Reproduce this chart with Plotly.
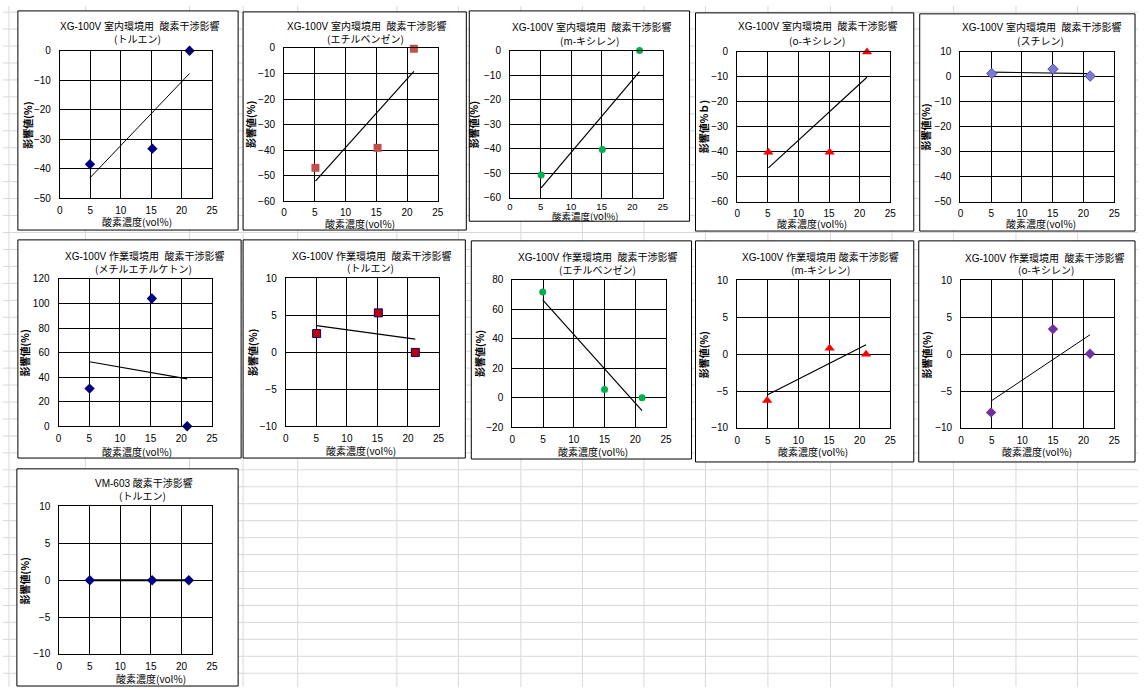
import numpy as np
import plotly.graph_objects as go

W, H = 1144, 693

# ---------------- data ----------------
title_line1 = [
    "XG-100V 室内環境用\u00a0 酸素干渉影響",
    "XG-100V 室内環境用\u00a0 酸素干渉影響",
    "XG-100V 室内環境用\u00a0 酸素干渉影響",
    "XG-100V 室内環境用\u00a0 酸素干渉影響",
    "XG-100V 室内環境用\u00a0 酸素干渉影響",
    "XG-100V 作業環境用\u00a0 酸素干渉影響",
    "XG-100V 作業環境用\u00a0 酸素干渉影響",
    "XG-100V 作業環境用\u00a0 酸素干渉影響",
    "XG-100V 作業環境用 酸素干渉影響",
    "XG-100V 作業環境用\u00a0 酸素干渉影響",
    "VM-603 酸素干渉影響",
]
title_line2 = [
    "(トルエン)", "(エチルベンゼン)", "(m-キシレン)", "(o-キシレン)", "(スチレン)",
    "(メチルエチルケトン)", "(トルエン)", "(エチルベンゼン)", "(m-キシレン)", "(o-キシレン)",
    "(トルエン)",
]
y_titles = ["影響値(%)", "影響値(%)", "影響値(%)", "影響値%ｂ)", "影響値(%)",
            "影響値(%)", "影響値(%)", "影響値(%)", "影響値(%)", "影響値(%)", "影響値(%)"]
x_title = "酸素濃度(vol%)"

x_indoor_toluene = [4.95, 15.2, 21.3]
y_indoor_toluene = [-38.5, -33.2, -0.1]
x_indoor_ethylbenzene = [5.1, 15.2, 21.1]
y_indoor_ethylbenzene = [-46.9, -39.1, -0.3]
x_indoor_mxylene = [5.1, 15.1, 21.2]
y_indoor_mxylene = [-50.7, -40.3, 0.0]
x_indoor_oxylene = [5.1, 15.1, 21.2]
y_indoor_oxylene = [-40.2, -40.2, 0.0]
x_indoor_styrene = [5.1, 15.05, 21.1]
y_indoor_styrene = [1.3, 3.1, 0.3]
x_work_mek = [5.05, 15.2, 20.95]
y_work_mek = [30.7, 104.0, 0.0]
x_work_toluene = [5.05, 15.15, 21.2]
y_work_toluene = [2.55, 5.35, 0.0]
x_work_ethylbenzene = [4.95, 15.0, 21.1]
y_work_ethylbenzene = [71.8, 5.6, 0.0]
x_work_mxylene = [4.9, 15.1, 21.05]
y_work_mxylene = [-6.3, 0.8, 0.0]
x_work_oxylene = [4.9, 15.0, 21.05]
y_work_oxylene = [-7.9, 3.4, 0.05]
x_vm_toluene = [5.0, 15.2, 21.2]
y_vm_toluene = [0.0, 0.0, 0.0]

x_range = [0, 25]
x_tick_step = 5
y_ranges = [[-50, 0], [-60, 0], [-60, 0], [-60, 0], [-50, 10],
            [0, 120], [-10, 10], [-20, 80], [-10, 10], [-10, 10], [-10, 10]]
y_tick_steps = [10, 10, 10, 10, 10, 20, 5, 20, 5, 5, 5]

series_x = [x_indoor_toluene, x_indoor_ethylbenzene, x_indoor_mxylene, x_indoor_oxylene,
            x_indoor_styrene, x_work_mek, x_work_toluene, x_work_ethylbenzene,
            x_work_mxylene, x_work_oxylene, x_vm_toluene]
series_y = [y_indoor_toluene, y_indoor_ethylbenzene, y_indoor_mxylene, y_indoor_oxylene,
            y_indoor_styrene, y_work_mek, y_work_toluene, y_work_ethylbenzene,
            y_work_mxylene, y_work_oxylene, y_vm_toluene]

# ---------------- styles / layout ----------------
markers = [
    dict(symbol="diamond", size=8, color="#000080"),
    dict(symbol="square", size=8, color="#C0504D"),
    dict(symbol="circle", size=7, color="#00B050"),
    dict(symbol="triangle-up", size=9, color="#FF0000"),
    dict(symbol="diamond", size=8, color="#7A7AD6", line=dict(color="#5050A8", width=1)),
    dict(symbol="diamond", size=8, color="#000080"),
    dict(symbol="square", size=8, color="#C00000", line=dict(color="#000080", width=1)),
    dict(symbol="circle", size=7, color="#00B050"),
    dict(symbol="triangle-up", size=9, color="#FF0000"),
    dict(symbol="diamond", size=8, color="#7030A0"),
    dict(symbol="diamond", size=8, color="#000080"),
]
trend_width = [1, 1.2, 1.2, 1.2, 1.2, 1.2, 1.2, 1.2, 1.2, 1, 2]

# chart boxes (left, top, right, bottom) px
boxes = [(15, 5, 237, 228), (242, 6, 467, 228), (470, 5, 692, 219), (698, 7, 918, 229),
         (924, 8, 1141, 229), (15, 238, 240, 460), (242, 238, 466, 460), (472, 239, 694, 461),
         (698, 239, 918, 464), (923, 239, 1141, 464), (14, 471, 237, 692)]
# plot areas (x0, x1, ytop, ybottom) px
plots = [(57.3, 210.7, 45.3, 195.7), (283.3, 438.3, 42.7, 198.7), (511, 665, 45.3, 195.3),
         (740, 894.3, 46.7, 199.3), (965, 1120, 46.7, 199), (56, 210.7, 277.7, 427.7),
         (285, 439, 277.3, 427.7), (513.3, 668.3, 278.7, 428.7), (740, 894.3, 279.3, 429.3),
         (965.7, 1120, 279.3, 429.3), (56.7, 210.7, 509.3, 659.3)]
xtick_standoff = [3, 2, 0, 2, 2, 3, 3, 3, 3, 3, 3]
xtick_size = [10, 10, 9.5, 10, 10, 10, 10, 10, 10, 10, 10]
xtitle_size = [10, 10, 9.5, 10, 10, 10, 10, 10, 10, 10, 10]
title_pos = [((137.5, 20.7), (135.8, 33.3)), ((366.7, 20), (365.5, 33.3)),
             ((593.3, 21.7), (591.3, 35)), ((821, 20.7), (820.3, 35)),
             ((1047, 21.7), (1045.8, 35)), ((142.5, 254), (141.7, 266.7)),
             ((371.7, 254), (370, 266)), ((599, 255), (599, 267.7)),
             ((824, 255), (824, 268.3)), ((1050, 256), (1050.8, 268.3)),
             ((141.7, 485), (140.8, 498.3))]
ytitle_pos = [(25, 121), (250, 121), (475, 121), (706, 123), (930, 123),
              (21.7, 353), (252, 353), (481, 354), (706, 355), (931, 355), (21.7, 585)]
xtitle_pos = [(135, 219.8), (360, 221.3), (586.7, 213.3), (815.3, 221.5), (1046, 221.8),
              (135, 453), (361.3, 452.5), (594.7, 453.2), (816, 453.5), (1042, 453.5),
              (149, 684)]

FONT = "Liberation Sans, Arial, Noto Sans CJK JP"
JFONT = "Noto Sans CJK JP, Liberation Sans"


def px(x):
    return x / W


def py(y):
    return 1 - y / H


fig = go.Figure()
shapes = []
annotations = []

# spreadsheet grid
col_x = [6, 83, 188, 242, 297, 397, 459, 522, 584, 646, 708, 771, 834, 896, 958, 1021, 1083]
for cx in col_x:
    shapes.append(dict(type="line", xref="paper", yref="paper", x0=px(cx), x1=px(cx),
                       y0=0, y1=1, line=dict(color="#D8D8D8", width=1), layer="below"))
ry = 6.25
while ry < H:
    shapes.append(dict(type="line", xref="paper", yref="paper", x0=0, x1=1,
                       y0=py(ry), y1=py(ry), line=dict(color="#D8D8D8", width=1), layer="below"))
    ry += 17.25

for i in range(11):
    l, t, r, b = boxes[i]
    shapes.append(dict(type="rect", xref="paper", yref="paper", x0=px(l), x1=px(r),
                       y0=py(b), y1=py(t), line=dict(color="#000000", width=1),
                       fillcolor="#FFFFFF", layer="below"))

for i in range(11):
    n = "" if i == 0 else str(i + 1)
    xa, ya = "x" + n, "y" + n
    x0, x1, yt, yb = plots[i]
    xs = np.array(series_x[i], dtype=float)
    ys = np.array(series_y[i], dtype=float)
    slope, icpt = np.polyfit(xs, ys, 1)
    tx = np.array([xs.min(), xs.max()])
    fig.add_trace(go.Scatter(x=tx, y=slope * tx + icpt, mode="lines", xaxis=xa, yaxis=ya,
                             line=dict(color="#000000", width=trend_width[i]),
                             showlegend=False, hoverinfo="skip"))
    fig.add_trace(go.Scatter(x=xs, y=ys, mode="markers", xaxis=xa, yaxis=ya,
                             marker=markers[i], cliponaxis=False, showlegend=False))
    axcommon = dict(showline=True, mirror=True, linecolor="#000000", linewidth=1,
                    showgrid=True, gridcolor="#000000", gridwidth=1, zeroline=False,
                    ticks="", fixedrange=True)
    fig.layout["xaxis" + n] = dict(domain=[px(x0), px(x1)], anchor=ya, range=x_range,
                                   dtick=x_tick_step, tick0=0,
                                   tickfont=dict(family=FONT, size=xtick_size[i], color="#000000"),
                                   ticklabelstandoff=xtick_standoff[i], **axcommon)
    fig.layout["yaxis" + n] = dict(domain=[py(yb), py(yt)], anchor=xa, range=y_ranges[i],
                                   dtick=y_tick_steps[i], tick0=0, ticklabelstandoff=6,
                                   tickfont=dict(family=FONT, size=10, color="#000000"),
                                   **axcommon)
    (t1x, t1y), (t2x, t2y) = title_pos[i]
    annotations.append(dict(text=title_line1[i], x=px(t1x), y=py(t1y), xref="paper",
                            yref="paper", showarrow=False, xanchor="center", yanchor="middle",
                            font=dict(family=FONT, size=10, color="#000000")))
    annotations.append(dict(text=title_line2[i], x=px(t2x), y=py(t2y), xref="paper",
                            yref="paper", showarrow=False, xanchor="center", yanchor="middle",
                            font=dict(family=JFONT, size=10, color="#000000")))
    yx, yy = ytitle_pos[i]
    annotations.append(dict(text="<b>" + y_titles[i] + "</b>", x=px(yx), y=py(yy), xref="paper",
                            yref="paper", showarrow=False, textangle=-90, xanchor="center",
                            yanchor="middle", font=dict(family=JFONT, size=10, color="#000000")))
    xx, xy = xtitle_pos[i]
    annotations.append(dict(text=x_title, x=px(xx), y=py(xy), xref="paper", yref="paper",
                            showarrow=False, xanchor="center", yanchor="middle",
                            font=dict(family=JFONT, size=xtitle_size[i], color="#000000")))

fig.update_layout(width=W, height=H, margin=dict(l=0, r=0, t=0, b=0),
                  paper_bgcolor="#FFFFFF", plot_bgcolor="#FFFFFF",
                  shapes=shapes, annotations=annotations, showlegend=False)

fig.write_html("out.html", config={"displayModeBar": False},
               post_script="document.body.style.margin='0';document.body.style.overflow='hidden';")
